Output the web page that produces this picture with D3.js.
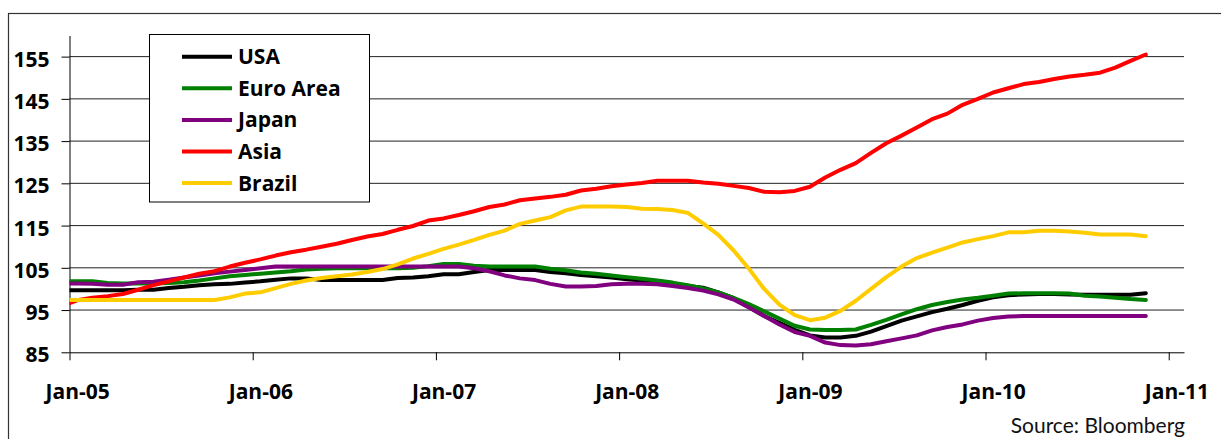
<!DOCTYPE html>
<html>
<head>
<meta charset="utf-8">
<script src="https://cdn.jsdelivr.net/npm/d3@7"></script>
<style>
  html, body { margin: 0; padding: 0; background: #fff; }
  svg { display: block; }
</style>
</head>
<body>
<div id="chart"></div>
<script>
// Monthly index levels, Dec-04 .. Nov-10 (Dec-04 sits left of the axis and is clipped)
const seriesNames = ["USA", "Euro Area", "Japan", "Asia", "Brazil"];
const seriesColors = ["#000000", "#008000", "#800080", "#ff0000", "#ffcc00"];

const usa = [99.7,
  99.7, 99.7, 99.7, 99.7, 99.8, 99.8, 100.2, 100.5, 100.9, 101.1, 101.2, 101.5,
  101.8, 102.2, 102.5, 102.5, 102.1, 102.1, 102.1, 102.1, 102.1, 102.6, 102.7, 103.0,
  103.5, 103.5, 104.0, 104.5, 104.5, 104.5, 104.5, 104.0, 103.7, 103.3, 103.0, 102.7,
  102.3, 102.0, 101.6, 101.1, 100.7, 100.3, 99.2, 97.8, 95.7, 93.6, 92.0, 90.3,
  89.0, 88.5, 88.5, 88.9, 89.9, 91.2, 92.5, 93.5, 94.5, 95.3, 96.2, 97.2,
  98.0, 98.5, 98.7, 98.8, 98.8, 98.7, 98.6, 98.6, 98.6, 98.6, 99.0];

const euroArea = [101.8,
  101.8, 101.8, 101.4, 101.3, 101.3, 101.3, 101.4, 101.6, 102.0, 102.5, 103.0, 103.3,
  103.6, 103.9, 104.2, 104.6, 104.8, 104.9, 104.9, 104.9, 104.9, 104.9, 105.0, 105.4,
  105.9, 105.9, 105.5, 105.3, 105.3, 105.3, 105.3, 104.8, 104.4, 103.9, 103.6, 103.2,
  102.8, 102.4, 102.0, 101.5, 100.9, 100.1, 99.2, 97.9, 96.4, 94.7, 93.0, 91.3,
  90.4, 90.3, 90.3, 90.4, 91.5, 92.7, 94.0, 95.2, 96.2, 96.9, 97.5, 97.9,
  98.4, 98.9, 99.0, 99.0, 99.0, 98.9, 98.4, 98.2, 97.9, 97.6, 97.4];

const japan = [101.3,
  101.3, 101.2, 101.0, 101.0, 101.6, 101.7, 102.2, 102.7, 103.2, 103.7, 104.1, 104.5,
  104.9, 105.3, 105.3, 105.3, 105.3, 105.3, 105.3, 105.3, 105.3, 105.3, 105.3, 105.3,
  105.3, 105.3, 104.9, 104.2, 103.2, 102.5, 102.1, 101.2, 100.6, 100.6, 100.7, 101.1,
  101.2, 101.2, 101.1, 100.7, 100.2, 99.6, 98.7, 97.5, 95.6, 93.6, 91.6, 89.8,
  88.9, 87.3, 86.7, 86.6, 86.9, 87.6, 88.3, 89.0, 90.2, 91.0, 91.6, 92.5,
  93.1, 93.5, 93.6, 93.6, 93.6, 93.6, 93.6, 93.6, 93.6, 93.6, 93.6];

const asia = [96.0,
  97.3, 97.9, 98.3, 98.8, 99.8, 100.9, 101.8, 102.7, 103.6, 104.2, 105.3, 106.2,
  107.0, 107.9, 108.7, 109.3, 110.0, 110.7, 111.6, 112.4, 113.0, 114.0, 114.9, 116.2,
  116.7, 117.5, 118.4, 119.4, 120.0, 121.0, 121.4, 121.8, 122.3, 123.3, 123.7, 124.3,
  124.7, 125.1, 125.6, 125.6, 125.6, 125.2, 124.9, 124.4, 123.9, 123.0, 122.9, 123.2,
  124.2, 126.4, 128.2, 129.8, 132.2, 134.5, 136.3, 138.2, 140.2, 141.5, 143.6, 145.0,
  146.5, 147.5, 148.5, 149.0, 149.7, 150.3, 150.7, 151.2, 152.4, 154.0, 155.5];

const brazil = [97.4,
  97.4, 97.4, 97.4, 97.4, 97.4, 97.4, 97.4, 97.4, 97.4, 97.4, 98.0, 98.9,
  99.2, 100.2, 101.2, 102.0, 102.6, 103.0, 103.4, 104.0, 104.7, 105.8, 107.2, 108.3,
  109.5, 110.5, 111.6, 112.8, 113.8, 115.4, 116.2, 117.0, 118.6, 119.5, 119.5, 119.5,
  119.4, 119.0, 118.9, 118.7, 118.0, 115.5, 112.8, 109.1, 104.8, 100.0, 96.3, 93.8,
  92.6, 93.2, 94.8, 97.2, 100.0, 102.8, 105.3, 107.3, 108.6, 109.8, 111.0, 111.8,
  112.5, 113.4, 113.4, 113.8, 113.8, 113.6, 113.3, 112.9, 112.9, 112.9, 112.5];

const seriesValues = [usa, euroArea, japan, asia, brazil];

// Months for the values above, and the year ticks of the date axis
const months = d3.timeMonth.range(new Date(2004, 11, 1), new Date(2010, 11, 1));
const tickYears = [2005, 2006, 2007, 2008, 2009, 2010, 2011];
const yTicks = [85, 95, 105, 115, 125, 135, 145, 155];

const width = 1221, height = 439;
const plot = { left: 69.5, right: 1184, top: 35.5, bottom: 352.3 };
const boldFont = "'Open Sans', Lato, sans-serif";
const noteFont = "Lato, 'Open Sans', sans-serif";

// month slot index from Jan-05; 73 slots Jan-05 .. Jan-11, points sit mid-slot
const monthIndex = d => (d.getFullYear() - 2005) * 12 + d.getMonth();

const x = d3.scaleLinear().domain([0, 73]).range([plot.left, plot.right]);
const y = d3.scaleLinear().domain([85, 160]).range([plot.bottom, plot.top]);

const svg = d3.select("#chart")
    .append("svg")
    .attr("width", width)
    .attr("height", height);

// Chart frame (runs off the right and bottom edge)
svg.append("rect")
    .attr("x", 8.5)
    .attr("y", 13.5)
    .attr("width", 1300)
    .attr("height", 500)
    .attr("fill", "none")
    .attr("stroke", "#333")
    .attr("stroke-width", 1.2);

// Gridlines
svg.append("g")
    .selectAll("line")
    .data(yTicks.slice(1))
    .join("line")
    .attr("x1", plot.left)
    .attr("x2", plot.right)
    .attr("y1", d => y(d))
    .attr("y2", d => y(d))
    .attr("stroke", "#222")
    .attr("stroke-width", 1);

// Y axis
const yAxis = svg.append("g")
    .attr("transform", `translate(${plot.left},0)`)
    .call(d3.axisLeft(y).tickValues(yTicks).tickSize(8).tickSizeOuter(0).tickPadding(12));
yAxis.selectAll("text")
    .attr("dy", "0.45em")
    .style("font-family", boldFont)
    .style("font-weight", "700")
    .style("font-size", "21px")
    .attr("fill", "#000");

// X axis: ticks on year boundaries, labels centred in the January slot
svg.append("g")
    .attr("transform", `translate(0,${plot.bottom})`)
    .call(d3.axisBottom(x)
        .tickValues(tickYears.map(yr => (yr - 2005) * 12))
        .tickSize(8)
        .tickSizeOuter(0)
        .tickFormat(""));

const fmt = d3.timeFormat("%b-%y");
svg.append("g")
    .attr("transform", `translate(0,${plot.bottom})`)
    .call(d3.axisBottom(x)
        .tickValues(tickYears.map(yr => (yr - 2005) * 12 + 0.5))
        .tickSize(0)
        .tickPadding(0)
        .tickFormat(v => fmt(new Date(2005 + Math.floor(v / 12), 0, 1))))
    .call(g => g.select(".domain").remove())
    .selectAll("text")
    .attr("y", 46.7)
    .attr("dy", 0)
    .style("font-family", boldFont)
    .style("font-weight", "700")
    .style("font-size", "21px")
    .attr("fill", "#000");

svg.selectAll(".domain").attr("stroke", "#000");
svg.selectAll(".tick line").attr("stroke", "#000");

// Series lines, clipped to the plot area
svg.append("clipPath")
    .attr("id", "plotClip")
    .append("rect")
    .attr("x", plot.left)
    .attr("y", 0)
    .attr("width", plot.right - plot.left)
    .attr("height", plot.bottom + 10);

const line = d3.line()
    .x((d, i) => x(monthIndex(months[i]) + 0.5))
    .y(d => y(d));

svg.append("g")
    .attr("clip-path", "url(#plotClip)")
    .selectAll("path")
    .data(seriesValues)
    .join("path")
    .attr("d", line)
    .attr("fill", "none")
    .attr("stroke", (d, i) => seriesColors[i])
    .attr("stroke-width", 4)
    .attr("stroke-linejoin", "round")
    .attr("stroke-linecap", "round");

// Legend
const legend = svg.append("g");
legend.append("rect")
    .attr("x", 149.5)
    .attr("y", 34.5)
    .attr("width", 220)
    .attr("height", 167.5)
    .attr("fill", "#fff")
    .attr("stroke", "#000")
    .attr("stroke-width", 1);

const items = legend.selectAll("g.item")
    .data(seriesNames)
    .join("g")
    .attr("class", "item")
    .attr("transform", (d, i) => `translate(0,${56.7 + i * 31.6})`);

items.append("line")
    .attr("x1", 182)
    .attr("x2", 232)
    .attr("stroke", (d, i) => seriesColors[i])
    .attr("stroke-width", 4);

items.append("text")
    .attr("x", 238)
    .attr("y", 7.5)
    .style("font-family", boldFont)
    .style("font-weight", "700")
    .style("font-size", "21px")
    .attr("fill", "#000")
    .text(d => d);

// Source note
svg.append("text")
    .attr("x", 1185)
    .attr("y", 433)
    .attr("text-anchor", "end")
    .style("font-family", noteFont)
    .style("font-size", "21px")
    .attr("fill", "#111")
    .text("Source: Bloomberg");
</script>
</body>
</html>
